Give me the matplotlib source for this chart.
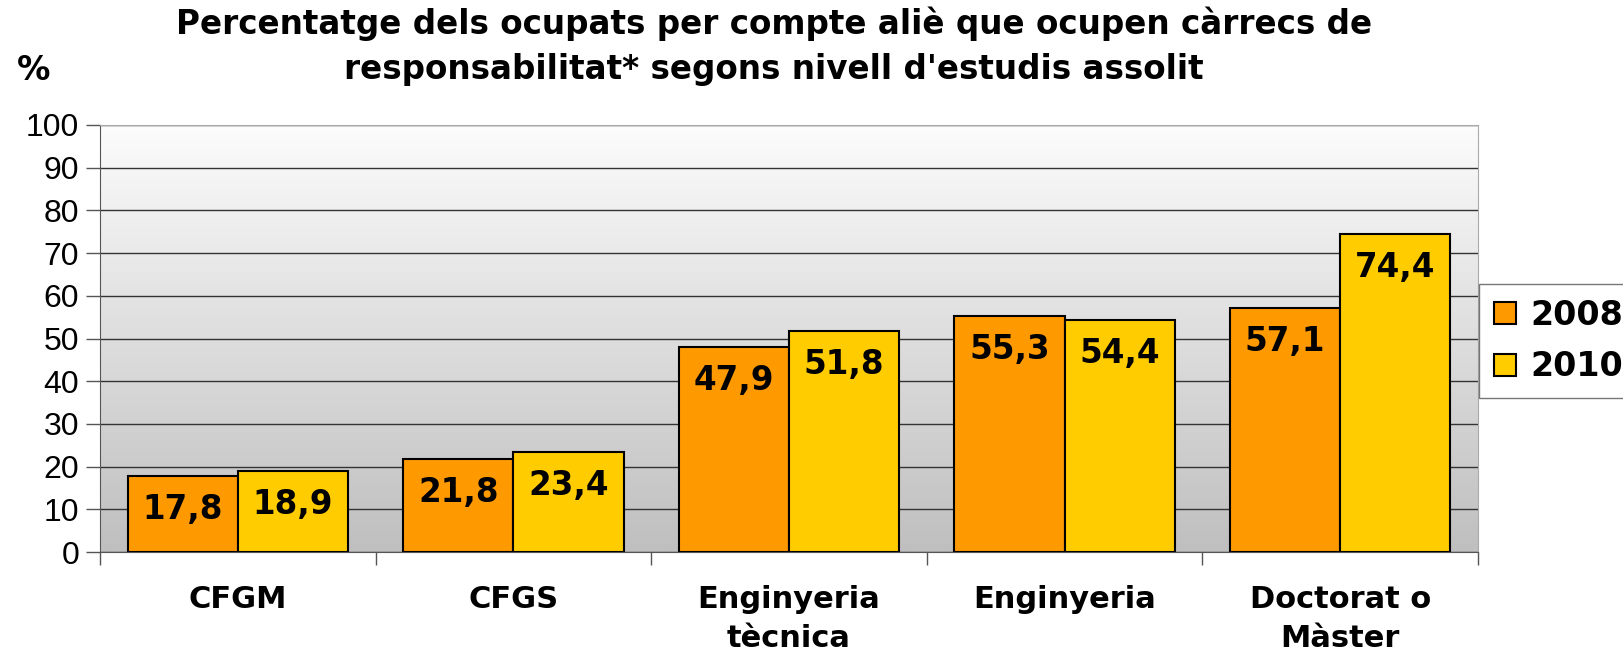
import matplotlib
matplotlib.use('Agg')
import matplotlib.pyplot as plt
import numpy as np

# data
categories = ['CFGM', 'CFGS', 'Enginyeria\ntècnica', 'Enginyeria', 'Doctorat o\nMàster']
years = ['2008', '2010']
vals_2008 = [17.8, 21.8, 47.9, 55.3, 57.1]
vals_2010 = [18.9, 23.4, 51.8, 54.4, 74.4]
yticks = list(range(0, 101, 10))

col_2008 = '#FF9900'
col_2010 = '#FFCC00'

fig = plt.figure(figsize=(16.23, 6.54), dpi=100)
ax = fig.add_axes([100/1623, 1-552/654, 1378/1623, 427/654])

# grey gradient background of the plot area
grad = np.linspace(0, 1, 256).reshape(-1, 1)
ax.imshow(grad, cmap=matplotlib.colors.LinearSegmentedColormap.from_list('g', ['#fcfcfc', '#bfbfbf']),
          extent=[-0.5, 4.5, 0, 100], aspect='auto', zorder=0, origin='upper')

x = np.arange(len(categories))
w = 0.4
b1 = ax.bar(x - w/2, vals_2008, w, color=col_2008, edgecolor='black', linewidth=1.5, zorder=3, label=years[0])
b2 = ax.bar(x + w/2, vals_2010, w, color=col_2010, edgecolor='black', linewidth=1.5, zorder=3, label=years[1])

for bars in (b1, b2):
    for r in bars:
        v = r.get_height()
        ax.annotate(f'{v:.1f}'.replace('.', ','), (r.get_x() + r.get_width()/2, v),
                    xytext=(0, -17), textcoords='offset pixels', ha='center', va='top',
                    fontsize=23.5, fontweight='bold', zorder=4)

ax.set_xlim(-0.5, 4.5)
ax.set_ylim(0, 100)
ax.set_yticks(yticks)
ax.set_yticklabels([str(t) for t in yticks], fontsize=23, family='Liberation Sans')
ax.yaxis.grid(True, color='#333333', linewidth=1.0, zorder=1)
ax.set_axisbelow(True)
ax.tick_params(axis='y', direction='out', length=10, width=1, color='#555555', pad=5)

# category labels between boundary ticks
ax.set_xticks(np.arange(-0.5, 5, 1))
ax.set_xticklabels([])
ax.tick_params(axis='x', direction='out', length=9, width=1, color='#555555')
ax.set_xticks(x, minor=True)
ax.set_xticklabels(categories, minor=True, fontsize=22, fontweight='bold', linespacing=1.4)
ax.tick_params(axis='x', which='minor', length=0, pad=24)

for s in ['left', 'bottom']:
    ax.spines[s].set_color('#555555')
for s in ['top', 'right']:
    ax.spines[s].set_color('#aaaaaa')

fig.text(774/1623, 1-24/654, "Percentatge dels ocupats per compte aliè que ocupen càrrecs de",
         ha='center', va='center', fontsize=23.5, fontweight='bold')
fig.text(774/1623, 1-70/654, "responsabilitat* segons nivell d'estudis assolit",
         ha='center', va='center', fontsize=23.5, fontweight='bold')
fig.text(34/1623, 1-70/654, '%', ha='center', va='center', fontsize=24, fontweight='bold')

leg = fig.legend(loc='upper left', bbox_to_anchor=(1479/1623, 1-284/654),
                 prop={'weight': 'bold', 'size': 24}, frameon=True, fancybox=False,
                 handlelength=0.65, handleheight=0.65, handletextpad=0.45, labelspacing=0.55,
                 borderpad=0.45, borderaxespad=0)
leg.get_frame().set_edgecolor('#555555')
leg.get_frame().set_linewidth(1)

plt.savefig('out.png', dpi=100)
